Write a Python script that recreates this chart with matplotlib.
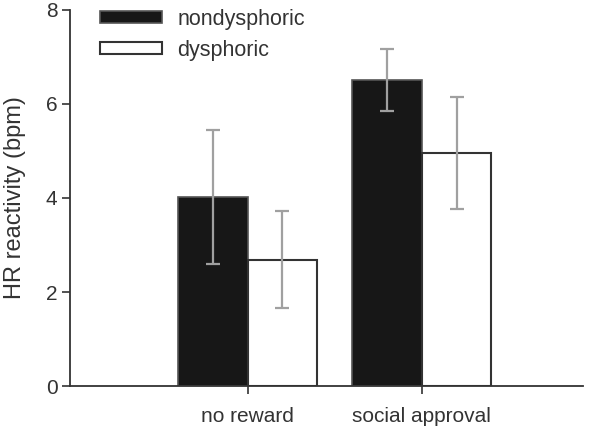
import matplotlib
matplotlib.use("Agg")
import matplotlib.pyplot as plt
import numpy as np

categories = ["no reward", "social approval"]
groups = ["nondysphoric", "dysphoric"]
nondysphoric = [4.02, 6.51]
nondysphoric_err = [1.42, 0.66]
dysphoric = [2.69, 4.96]
dysphoric_err = [1.03, 1.19]

plt.rcParams['font.family'] = ['Liberation Sans', 'DejaVu Sans']

fig = plt.figure(figsize=(5.99, 4.29), dpi=100)
ax = fig.add_axes([0.117, 0.1, 0.856, 0.877])

x = np.arange(len(categories))
w = 0.40
errkw = dict(ecolor='#a0a0a0', elinewidth=1.6, capsize=5, capthick=1.6)
ax.bar(x - w / 2, nondysphoric, w, yerr=nondysphoric_err, color='#171717',
       edgecolor='#555555', linewidth=1.2, label=groups[0], error_kw=errkw)
ax.bar(x + w / 2, dysphoric, w, yerr=dysphoric_err, color='white',
       edgecolor='#333333', linewidth=1.5, label=groups[1], error_kw=errkw)

ax.set_xlim(-1.02, 1.925)
ax.set_ylim(0, 8)
ax.set_yticks([0, 2, 4, 6, 8])
ax.set_xticks(x)
ax.set_xticklabels(categories)
ax.set_ylabel("HR reactivity (bpm)", fontsize=17, color='#333333', labelpad=14)

for s in ['top', 'right']:
    ax.spines[s].set_visible(False)
for s in ['left', 'bottom']:
    ax.spines[s].set_color('#333333')
    ax.spines[s].set_linewidth(1.3)
ax.tick_params(axis='both', labelsize=15, colors='#333333', labelcolor='#333333',
               length=6, width=1.2, pad=3)
ax.tick_params(axis='x', pad=9)

ax.legend(loc='upper left', bbox_to_anchor=(100 / 599, 1 - 9 / 429),
          bbox_transform=fig.transFigure, frameon=False, borderpad=0,
          borderaxespad=0, fontsize=15.5, handlelength=2.9, handleheight=0.5,
          labelspacing=0.45, handletextpad=0.7, labelcolor='#333333')

fig.savefig("out.png", dpi=100)
